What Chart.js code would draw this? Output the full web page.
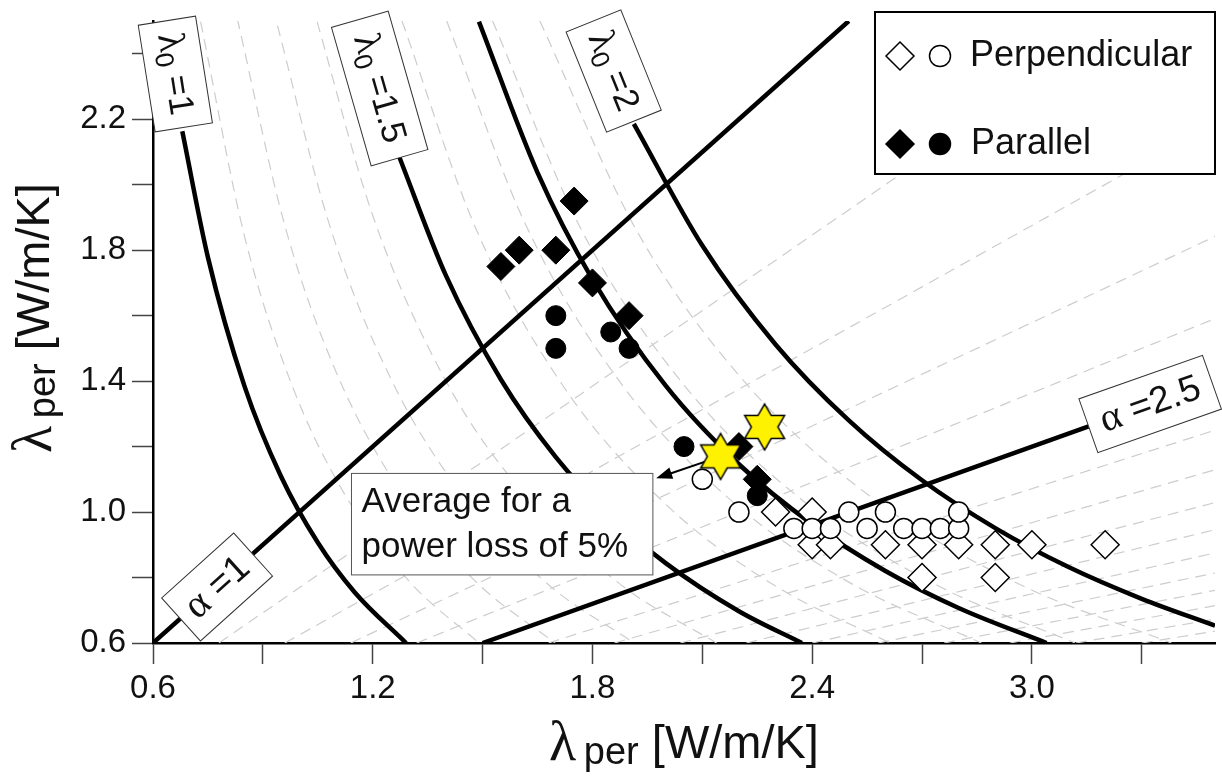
<!DOCTYPE html>
<html>
<head>
<meta charset="utf-8">
<script src="https://cdn.jsdelivr.net/npm/chart.js@4.4.1/dist/chart.umd.min.js"></script>
<style>
  html, body { margin: 0; padding: 0; background: #fff; overflow: hidden; }
  canvas { display: block; }
</style>
</head>
<body>
<canvas id="myChart" width="1222" height="776"></canvas>
<script>
// axis ticks
var xTicks = [0.6, 0.9, 1.2, 1.5, 1.8, 2.1, 2.4, 2.7, 3.0, 3.3];
var xLabeled = [0.6, 1.2, 1.8, 2.4, 3.0];
var yTicks = [0.6, 0.8, 1.0, 1.2, 1.4, 1.6, 1.8, 2.0, 2.2, 2.4];
var yLabeled = [0.6, 1.0, 1.4, 1.8, 2.2];

// measured points [lambda_x, lambda_y]
var perpDiamonds = [[2.3, 1.0], [2.4, 1.0], [2.4, 0.9], [2.45, 0.9], [2.6, 0.9], [2.7, 0.9], [2.7, 0.8],
  [2.8, 0.9], [2.9, 0.9], [2.9, 0.8], [3.0, 0.9], [3.2, 0.9]];
var perpCircles = [[2.1, 1.1], [2.2, 1.0], [2.35, 0.95], [2.4, 0.95], [2.45, 0.95], [2.5, 1.0], [2.55, 0.95],
  [2.6, 1.0], [2.65, 0.95], [2.7, 0.95], [2.75, 0.95], [2.8, 0.95], [2.8, 1.0]];
var parDiamonds = [[1.55, 1.75], [1.6, 1.8], [1.7, 1.8], [1.75, 1.95], [1.8, 1.7], [1.9, 1.6], [2.2, 1.2], [2.25, 1.1]];
var parCircles = [[1.7, 1.6], [1.7, 1.5], [1.85, 1.55], [1.9, 1.5], [2.05, 1.2], [2.25, 1.05]];
var avgStars = [[2.15, 1.17], [2.27, 1.26]];

// solid iso-lines
var lam1 = [[0.68, 2.163], [0.75, 1.778], [0.85, 1.384], [0.95, 1.108], [1.05, 0.907], [1.15, 0.756], [1.291, 0.6]];
var lam15 = [[1.272, 2.086], [1.4, 1.722], [1.55, 1.405], [1.7, 1.168], [1.85, 0.986], [2.0, 0.844], [2.2, 0.697], [2.372, 0.6]];
var lamAvg = [[1.49, 2.498], [1.65, 2.037], [1.8, 1.711], [2.0, 1.386], [2.2, 1.146], [2.4, 0.963], [2.6, 0.82], [2.8, 0.707], [3.04, 0.6]];
var lam2 = [[1.913, 2.186], [2.1, 1.814], [2.3, 1.512], [2.5, 1.28], [2.7, 1.097], [2.9, 0.951], [3.1, 0.832], [3.3, 0.735], [3.5, 0.653]];
var alpha1 = [[0.6, 0.6], [2.5, 2.5]];
var alpha25 = [[1.5, 0.6], [3.155, 1.262]];

// light dashed background family
var lamDashed = [
  [[0.73, 2.498], [0.85, 1.842], [0.98, 1.386], [1.12, 1.061], [1.3, 0.788], [1.49, 0.6]],
  [[0.83, 2.508], [0.96, 1.875], [1.1, 1.428], [1.28, 1.055], [1.48, 0.789], [1.7, 0.598]],
  [[0.94, 2.486], [1.08, 1.884], [1.25, 1.406], [1.45, 1.045], [1.68, 0.778], [1.914, 0.6]],
  [[1.048, 2.498], [1.2, 1.906], [1.4, 1.4], [1.62, 1.046], [1.88, 0.776], [2.14, 0.599]],
  [[1.28, 2.5], [1.48, 1.87], [1.72, 1.385], [2.0, 1.024], [2.3, 0.774], [2.613, 0.6]],
  [[1.402, 2.5], [1.62, 1.872], [1.88, 1.39], [2.18, 1.034], [2.5, 0.786], [2.862, 0.6]],
  [[1.527, 2.501], [1.77, 1.862], [2.05, 1.388], [2.38, 1.03], [2.74, 0.777], [3.118, 0.6]],
  [[1.656, 2.501], [1.92, 1.861], [2.22, 1.392], [2.58, 1.03], [2.98, 0.772], [3.381, 0.6]]
];
var alphaDashed = [
  [[0.78, 0.6], [3.25, 2.5]], [[0.96, 0.6], [3.5, 2.188]], [[1.14, 0.6], [3.5, 1.842]],
  [[1.32, 0.6], [3.5, 1.591]], [[1.68, 0.6], [3.5, 1.25]], [[1.86, 0.6], [3.5, 1.129]],
  [[2.04, 0.6], [3.5, 1.029]], [[2.22, 0.6], [3.5, 0.946]], [[2.4, 0.6], [3.5, 0.875]],
  [[2.58, 0.6], [3.5, 0.814]], [[2.76, 0.6], [3.5, 0.761]], [[2.94, 0.6], [3.5, 0.714]],
  [[3.12, 0.6], [3.5, 0.673]], [[3.3, 0.6], [3.5, 0.636]]
];

var SANS = '"Liberation Sans", Arial, sans-serif';
var SERIF = '"Liberation Serif", "Times New Roman", serif';

// rotated label boxes (centre in data units)
var tags = [
  { x: 0.661, y: 2.338, w: 108, h: 58, rot: 81, sym: 'λ', sub: '0', rest: ' =1' },
  { x: 1.219, y: 2.294, w: 144, h: 59, rot: 74, sym: 'λ', sub: '0', rest: ' =1.5' },
  { x: 1.858, y: 2.347, w: 108, h: 59, rot: 68, sym: 'λ', sub: '0', rest: ' =2' },
  { x: 0.775, y: 0.771, w: 97, h: 58, rot: -42, sym: 'α', sub: '', rest: ' =1' },
  { x: 3.323, y: 1.33, w: 131, h: 57, rot: -19.4, sym: 'α', sub: '', rest: ' =2.5' }
];

function pts(arr) {
  return arr.map(function (p) { return { x: p[0], y: p[1] }; });
}

// six pointed star marker
function makeStar(R) {
  var c = document.createElement('canvas');
  c.width = c.height = Math.ceil(2 * R + 4);
  var g = c.getContext('2d');
  var m = c.width / 2, r = R / Math.sqrt(3);
  g.beginPath();
  for (var i = 0; i < 12; i++) {
    var a = -Math.PI / 2 + i * Math.PI / 6;
    var rr = i % 2 === 0 ? R : r;
    g.lineTo(m + rr * Math.cos(a), m + rr * Math.sin(a));
  }
  g.closePath();
  g.fillStyle = '#fff200';
  g.fill();
  g.lineWidth = 1.5;
  g.strokeStyle = '#000';
  g.stroke();
  return c;
}

function richText(ctx, parts, x, y, align) {
  var w = 0;
  parts.forEach(function (p) { ctx.font = p[1]; w += ctx.measureText(p[0]).width; });
  var cx = align === 'center' ? x - w / 2 : x;
  ctx.textAlign = 'left';
  parts.forEach(function (p) {
    ctx.font = p[1];
    ctx.fillText(p[0], cx, y + (p[2] || 0));
    cx += ctx.measureText(p[0]).width;
  });
}

function diamond(ctx, x, y, r, fill) {
  ctx.beginPath();
  ctx.moveTo(x - r, y); ctx.lineTo(x, y - r); ctx.lineTo(x + r, y); ctx.lineTo(x, y + r);
  ctx.closePath();
  ctx.fillStyle = fill; ctx.fill();
  ctx.lineWidth = 1.5; ctx.strokeStyle = '#000'; ctx.stroke();
}
function dot(ctx, x, y, r, fill) {
  ctx.beginPath();
  ctx.arc(x, y, r, 0, Math.PI * 2);
  ctx.fillStyle = fill; ctx.fill();
  ctx.lineWidth = 1.5; ctx.strokeStyle = '#000'; ctx.stroke();
}

var datasets = [
  { label: 'avg', data: pts(avgStars), pointStyle: makeStar(23), pointRadius: 23 },
  { label: 'par circles', data: pts(parCircles), pointStyle: 'circle', pointRadius: 10,
    backgroundColor: '#000', borderColor: '#000', borderWidth: 1 },
  { label: 'perp circles', data: pts(perpCircles), pointStyle: 'circle', pointRadius: 10,
    backgroundColor: '#fff', borderColor: '#000', borderWidth: 1.5 },
  { label: 'par diamonds', data: pts(parDiamonds), pointStyle: 'rectRot', pointRadius: 14,
    backgroundColor: '#000', borderColor: '#000', borderWidth: 1 },
  { label: 'perp diamonds', data: pts(perpDiamonds), pointStyle: 'rectRot', pointRadius: 14,
    backgroundColor: '#fff', borderColor: '#000', borderWidth: 1.5 }
];

[lam1, lam15, lamAvg, lam2, alpha1, alpha25].forEach(function (l) {
  datasets.push({ data: pts(l), showLine: true, pointRadius: 0, borderColor: '#000', borderWidth: 4.5,
    cubicInterpolationMode: 'monotone', fill: false });
});
lamDashed.concat(alphaDashed).forEach(function (l) {
  datasets.push({ data: pts(l), showLine: true, pointRadius: 0, borderColor: '#cdcdcd', borderWidth: 1.2,
    borderDash: [11, 7], cubicInterpolationMode: 'monotone', fill: false });
});

var decor = {
  id: 'decor',
  beforeDatasetDraw: function (chart, args) {
    if (args.index !== 0) return;
    // arrow from the first star to the note box
    var ctx = chart.ctx, xs = chart.scales.x, ys = chart.scales.y;
    var x0 = xs.getPixelForValue(2.15), y0 = ys.getPixelForValue(1.17);
    var x1 = xs.getPixelForValue(1.974), y1 = ys.getPixelForValue(1.103);
    var a = Math.atan2(y1 - y0, x1 - x0);
    ctx.save();
    ctx.strokeStyle = '#000'; ctx.lineWidth = 2;
    ctx.beginPath(); ctx.moveTo(x0, y0); ctx.lineTo(x1 - 12 * Math.cos(a), y1 - 12 * Math.sin(a)); ctx.stroke();
    ctx.beginPath();
    ctx.moveTo(x1, y1);
    ctx.lineTo(x1 - 16 * Math.cos(a) + 6 * Math.sin(a), y1 - 16 * Math.sin(a) - 6 * Math.cos(a));
    ctx.lineTo(x1 - 16 * Math.cos(a) - 6 * Math.sin(a), y1 - 16 * Math.sin(a) + 6 * Math.cos(a));
    ctx.closePath(); ctx.fillStyle = '#000'; ctx.fill();
    ctx.restore();
  },
  afterDatasetsDraw: function (chart) {
    var ctx = chart.ctx, xs = chart.scales.x, ys = chart.scales.y, ca = chart.chartArea;
    ctx.save();
    ctx.textBaseline = 'middle';

    // rotated tags
    tags.forEach(function (t) {
      ctx.save();
      ctx.translate(xs.getPixelForValue(t.x), ys.getPixelForValue(t.y));
      ctx.rotate(t.rot * Math.PI / 180);
      ctx.fillStyle = '#fff';
      ctx.fillRect(-t.w / 2, -t.h / 2, t.w, t.h);
      ctx.strokeStyle = '#333'; ctx.lineWidth = 1;
      ctx.strokeRect(-t.w / 2, -t.h / 2, t.w, t.h);
      ctx.fillStyle = '#111';
      var big = t.sym === 'α' ? 40 : 38;
      richText(ctx, [[t.sym, big + 'px ' + SERIF, 0], [t.sub, '26px ' + SANS, 9], [t.rest, (big - 3) + 'px ' + SANS, 0]], 0, 1, 'center');
      ctx.restore();
    });

    // note box
    var bx0 = xs.getPixelForValue(1.142), bx1 = xs.getPixelForValue(1.965);
    var by0 = ys.getPixelForValue(1.118), by1 = ys.getPixelForValue(0.808);
    ctx.fillStyle = '#fff';
    ctx.fillRect(bx0, by0, bx1 - bx0, by1 - by0);
    ctx.strokeStyle = '#555'; ctx.lineWidth = 1;
    ctx.strokeRect(bx0, by0, bx1 - bx0, by1 - by0);
    ctx.fillStyle = '#111';
    ctx.textBaseline = 'alphabetic';
    richText(ctx, [['Average for a', '35px ' + SANS]], bx0 + 10, by0 + 39, 'left');
    richText(ctx, [['power loss of 5%', '35px ' + SANS]], bx0 + 10, by0 + 84, 'left');

    // legend
    var lx = ca.right - 340, ly = ca.top - 9;
    ctx.fillStyle = '#fff';
    ctx.fillRect(lx, ly, 340, 162);
    ctx.strokeStyle = '#000'; ctx.lineWidth = 2;
    ctx.strokeRect(lx, ly, 340, 162);
    diamond(ctx, lx + 25, ly + 44, 14, '#fff');
    dot(ctx, lx + 65, ly + 44, 10.5, '#fff');
    diamond(ctx, lx + 25, ly + 132, 14, '#000');
    dot(ctx, lx + 65, ly + 132, 10.5, '#000');
    ctx.fillStyle = '#111';
    ctx.textBaseline = 'middle';
    richText(ctx, [['Perpendicular', '36px ' + SANS]], lx + 95, ly + 44, 'left');
    richText(ctx, [['Parallel', '36px ' + SANS]], lx + 96, ly + 132, 'left');

    // tick labels
    ctx.font = '33px ' + SANS;
    ctx.fillStyle = '#111';
    ctx.textAlign = 'center';
    xLabeled.forEach(function (v) {
      ctx.fillText(v.toFixed(1), xs.getPixelForValue(v), ca.bottom + 46);
    });
    ctx.textAlign = 'right';
    yLabeled.forEach(function (v) {
      ctx.fillText(v.toFixed(1), ca.left - 27, ys.getPixelForValue(v));
    });

    // axis titles
    var title = [['λ', '56px ' + SERIF, 0], ['\u2009per', '38px ' + SANS, 9], [' [W/m/K]', '47px ' + SANS, 0]];
    richText(ctx, title, (ca.left + ca.right) / 2, 745, 'center');
    ctx.save();
    ctx.translate(36, (ca.top + ca.bottom) / 2 - 14);
    ctx.rotate(-Math.PI / 2);
    richText(ctx, title, 0, 0, 'center');
    ctx.restore();

    ctx.restore();
  }
};

var ctx = document.getElementById('myChart').getContext('2d');
var myChart = new Chart(ctx, {
  type: 'scatter',
  data: { datasets: datasets },
  options: {
    responsive: false,
    animation: false,
    devicePixelRatio: 1,
    layout: { autoPadding: false, padding: { top: 21, right: 7, left: 0, bottom: 0 } },
    scales: {
      x: {
        type: 'linear', min: 0.6, max: 3.5,
        afterBuildTicks: function (s) { s.ticks = xTicks.map(function (v) { return { value: v }; }); },
        afterFit: function (s) { s.height = 133; },
        ticks: { display: false },
        grid: { drawOnChartArea: false, drawTicks: true, tickLength: 21, tickColor: '#444', tickWidth: 1.5 },
        border: { display: true, color: '#000', width: 2.5 }
      },
      y: {
        type: 'linear', min: 0.6, max: 2.5,
        afterBuildTicks: function (s) { s.ticks = yTicks.map(function (v) { return { value: v }; }); },
        afterFit: function (s) { s.width = 153; },
        ticks: { display: false },
        grid: { drawOnChartArea: false, drawTicks: true, tickLength: 21, tickColor: '#444', tickWidth: 1.5 },
        border: { display: true, color: '#000', width: 2.5 }
      }
    },
    plugins: {
      legend: { display: false },
      tooltip: { enabled: false }
    }
  },
  plugins: [decor]
});
</script>
</body>
</html>
